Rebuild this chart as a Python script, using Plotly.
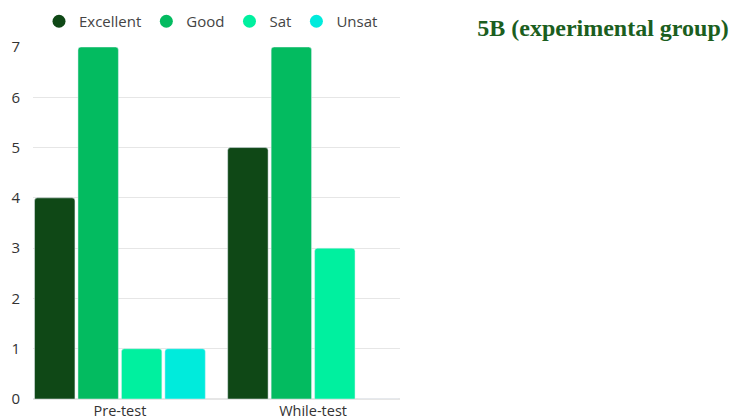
import plotly.graph_objects as go

categories = ["Pre-test", "While-test"]
series_names = ["Excellent", "Good", "Sat", "Unsat"]
excellent = [4, 5]
good = [7, 7]
sat = [1, 3]
unsat = [1, 0]
values = [excellent, good, sat, unsat]
colors = ["#0f4816", "#03bb60", "#00f09f", "#00ebdc"]
y_ticks = [0, 1, 2, 3, 4, 5, 6, 7]

fig = go.Figure()
for name, vals, col in zip(series_names, values, colors):
    fig.add_trace(go.Bar(x=categories, y=vals, name=name, marker_color=col,
                         showlegend=False))
for name, col in zip(series_names, colors):
    fig.add_trace(go.Scatter(x=[None], y=[None], mode="markers", name=name,
                             marker=dict(symbol="circle", size=13, color=col)))

fig.update_layout(
    width=732, height=419,
    margin=dict(l=33, r=332, t=47, b=20, autoexpand=False),
    paper_bgcolor="white", plot_bgcolor="white",
    barmode="group", bargap=0.1, bargroupgap=0.07, barcornerradius=3,
    font=dict(family="Open Sans, sans-serif", size=14, color="#333333"),
    title=dict(text="<b>5B (experimental group)</b>", xref="container", yref="container",
               x=603 / 732, xanchor="center", y=1 - 28 / 419, yanchor="middle",
               font=dict(family="Liberation Serif, serif", size=24, color="#1b5e20")),
    legend=dict(orientation="h", xref="container", yref="container",
                x=39 / 732, xanchor="left", y=1 - 5 / 419, yanchor="top",
                font=dict(size=15, color="#444444"), itemwidth=30,
                tracegroupgap=0),
    xaxis=dict(range=[-0.45, 1.45], showgrid=False, showline=False, ticks="",
               ticklabelstandoff=1, tickfont=dict(size=14.5, color="#333333")),
    yaxis=dict(range=[0, 7], tickvals=y_ticks, showgrid=True, gridcolor="#e6e6e6",
               zeroline=True, zerolinecolor="#e6e6e6", ticks="", ticklabelstandoff=12,
               tickfont=dict(size=15, color="#333333")),
)

fig.write_html("out.html", config={"displayModeBar": False},
               post_script="document.body.style.margin='0';document.body.style.overflow='hidden';")
